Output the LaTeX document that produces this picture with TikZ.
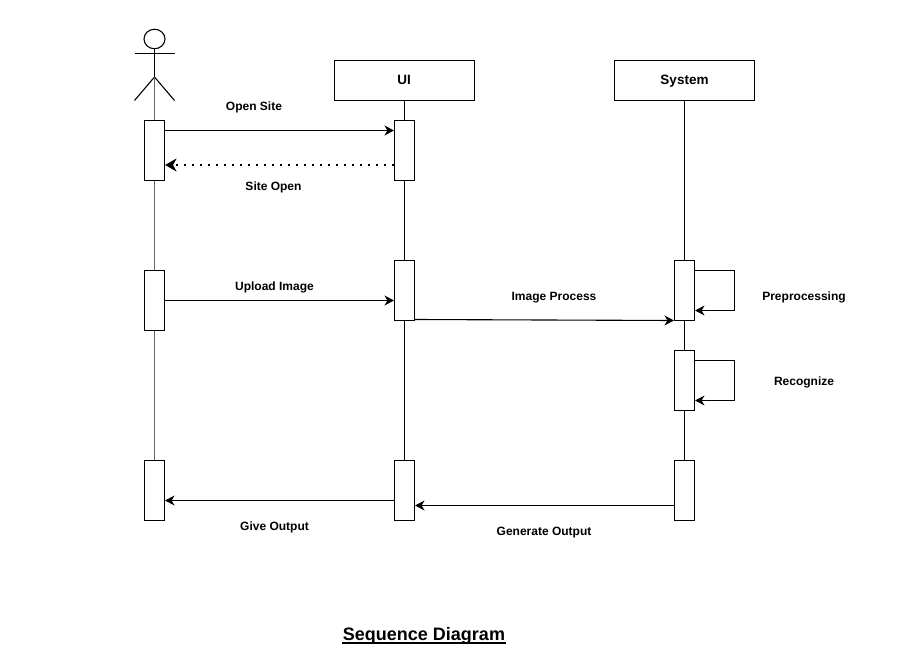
\documentclass[tikz,border=0pt]{standalone}
\usepackage{fontspec}
\setmainfont{Liberation Sans}
\usetikzlibrary{arrows.meta,shapes.geometric}
\tikzset{
  x=1pt,y=-1pt,
  every path/.style={line width=1.1pt},
  lane/.style={draw=black,fill=white,minimum width=140pt,minimum height=40pt,inner sep=0pt},
  lanetext/.style={inner sep=0pt,anchor=base,font=\fontsize{13.5}{16}\selectfont\bfseries},
  bar/.style={draw=black,fill=white,minimum width=20pt,minimum height=60pt,inner sep=0pt},
  life/.style={draw=black},
  actorlife/.style={draw=black!60,line width=1.8pt},
  lbl/.style={inner sep=0pt,font=\fontsize{12}{14}\selectfont\bfseries},
  msg/.style={draw=black,-{Stealth[length=9.5pt,width=10pt,inset=3pt]}},
  ret/.style={draw=black,line width=1.6pt,dash pattern=on 1.6pt off 6.4pt,-{Stealth[length=11.5pt,width=13pt,inset=3.5pt]}},
}
\begin{document}
\begin{tikzpicture}
\useasboundingbox (0,0) rectangle (902,671);
\fill[white] (0,0) rectangle (902,671);
% lanes
\node[lane] (ui) at (404.5,80.5) {};
\node[lane] (sys) at (684.5,80.5) {};
\node[lanetext] (uit) at (404,85) {UI};
\node[lanetext] (syst) at (684.5,85) {System};
% actor
\node[draw=black,ellipse,minimum width=21pt,minimum height=19.5pt,inner sep=0pt] (head) at (154.5,39) {};
\coordinate (hip) at (154.5,77);
\coordinate (armL) at (134.5,53.5);
\coordinate (armR) at (174.5,53.5);
\coordinate (legL) at (134.5,100.5);
\coordinate (legR) at (174.5,100.5);
\draw (head.south) -- (hip);
\draw (armL) -- (armR);
\draw (legL) -- (hip) -- (legR);
% lifelines of the actor lie under the activation bars
\coordinate (a1top) at (154.5,120.5);
\coordinate (a1bot) at (154.5,180.5);
\coordinate (a2top) at (154.5,270.5);
\coordinate (a2bot) at (154.5,330.5);
\coordinate (a3top) at (154.5,460.5);
\draw[actorlife] (hip) -- (a1top);
\draw[actorlife] (a1bot) -- (a2top);
\draw[actorlife] (a2bot) -- (a3top);
% activations
\node[bar] (a1) at (154.5,150.5) {};
\node[bar] (a2) at (154.5,300.5) {};
\node[bar] (a3) at (154.5,490.5) {};
\node[bar] (u1) at (404.5,150.5) {};
\node[bar] (u2) at (404.5,290.5) {};
\node[bar] (u3) at (404.5,490.5) {};
\node[bar] (s1) at (684.5,290.5) {};
\node[bar] (s2) at (684.5,380.5) {};
\node[bar] (s3) at (684.5,490.5) {};
% lifelines
\draw[life] (ui.south) -- (u1.north);
\draw[life] (u1.south) -- (u2.north);
\draw[life] (u2.south) -- (u3.north);
\draw[life] (sys.south) -- (s1.north);
\draw[life] (s1.south) -- (s2.north);
\draw[life] (s2.south) -- (s3.north);
% messages
\draw[msg] ([yshift=20pt]a1.east) -- ([yshift=20pt]u1.west);
\draw[ret] ([yshift=-14.5pt]u1.west) -- ([yshift=-14.5pt]a1.east);
\draw[msg] (a2.east) -- ([yshift=-10pt]u2.west);
\draw[msg] ([yshift=-29pt]u2.east) -- ([yshift=-30pt]s1.west);
\draw[msg] ([yshift=20pt]s1.east) -| ++(39.5,40) -- ([yshift=-20pt]s1.east);
\draw[msg] ([yshift=20pt]s2.east) -| ++(39.5,40) -- ([yshift=-20pt]s2.east);
\draw[msg] ([yshift=-10pt]u3.west) -- ([yshift=-10pt]a3.east);
\draw[msg] ([yshift=-15pt]s3.west) -- ([yshift=-15pt]u3.east);
% labels
\node[lbl] (l1) at (254,107.5) {Open Site};
\node[lbl] (l2) at (273.5,187.5) {Site Open};
\node[lbl] (l3) at (274.5,287.5) {Upload Image};
\node[lbl] (l4) at (554,297.5) {Image Process};
\node[lbl] (l5) at (804,297.5) {Preprocessing};
\node[lbl] (l6) at (804,382.5) {Recognize};
\node[lbl] (l7) at (274.5,527.5) {Give Output};
\node[lbl] (l8) at (544,532.5) {Generate Output};
\node[inner sep=0pt,anchor=base,font=\fontsize{18}{20}\selectfont\bfseries] (title) at (424,640.5) {Sequence Diagram};
\draw[line width=1.4pt] ([yshift=-2.3pt]title.base west) -- ([yshift=-2.3pt]title.base east);
\end{tikzpicture}
\end{document}
